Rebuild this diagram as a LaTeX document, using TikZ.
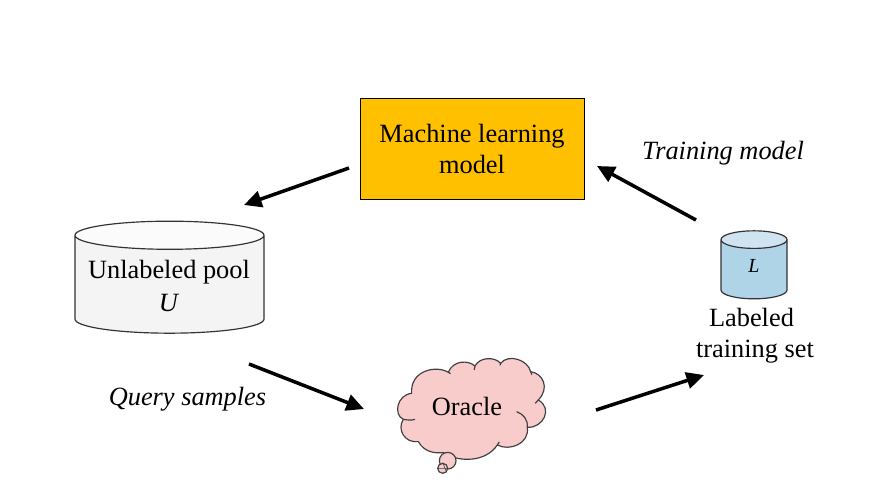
\documentclass[tikz,border=0pt]{standalone}
\usepackage{fontspec}
\setmainfont{Liberation Serif}
\usepackage{xcolor}
\usetikzlibrary{arrows.meta,shapes.geometric}
\definecolor{modelfill}{HTML}{FFC000}
\definecolor{oraclefill}{HTML}{F9CCCC}
\definecolor{setbody}{HTML}{AFD3E7}
\definecolor{settop}{HTML}{CFE3F1}
\definecolor{poolfill}{HTML}{F4F4F4}

\begin{document}
\begin{tikzpicture}[x=0.03cm,y=-0.03cm,
    font=\fontsize{22.5}{26.5}\selectfont,
    barrel/.style={cylinder,shape border rotate=90,draw=black!80,line width=1pt,cylinder uses custom fill,inner sep=0pt},
    bubble/.style={circle,draw=black!75,fill=oraclefill,line width=1pt,inner sep=0pt},
    flow/.style={-{Triangle[length=15pt,width=14pt]},line width=3pt,black}]
  \useasboundingbox (0,0) rectangle (874,496);

  \node[draw=black,fill=modelfill,line width=0.7pt,minimum width=6.72cm,minimum height=3.03cm,align=center] (model) at (472,149) {Machine learning\\model};

  \node[barrel,cylinder body fill=poolfill,cylinder end fill=white!60!poolfill,minimum width=5.67cm,minimum height=3.36cm,aspect=2.4] (pool) at (169.5,284.5) {\rule{10pt}{0pt}};
  \node[align=center] (pooltext) at (169,286) {Unlabeled pool\\[2pt]\textit{U}};

  \node[barrel,cylinder body fill=setbody,cylinder end fill=settop,minimum width=1.98cm,minimum height=2.04cm,aspect=1.5] (labeled) at (754,269.5) {\rule{10pt}{0pt}};
  \node[font=\fontsize{17}{20}\selectfont\itshape] (labeledmark) at (754,266) {L};
  \node[align=center] (labeledtext) at (755,335.5) {Labeled\kern6pt\\training set};

  % cloud outline traced puff by puff
  \begin{scope}[shift={(380,340)},x=0.01cm,y=-0.01cm]
    \draw[draw=black!75,fill=oraclefill,line width=1pt,line join=round]
      (95,160) .. controls (50,165) and (40,225) .. (70,238)
      .. controls (50,270) and (75,310) .. (115,305)
      .. controls (135,340) and (170,340) .. (190,338)
      .. controls (240,370) and (320,365) .. (352,315)
      .. controls (390,335) and (450,310) .. (442,262)
      .. controls (490,265) and (520,205) .. (475,180)
      .. controls (510,145) and (490,100) .. (452,95)
      .. controls (445,60) and (385,40) .. (362,70)
      .. controls (345,50) and (300,50) .. (285,78)
      .. controls (265,60) and (220,60) .. (205,97)
      .. controls (170,75) and (90,90) .. (95,160) -- cycle;
    \draw[draw=black!75,line width=1pt]
      (70,238) .. controls (80,240) and (95,242) .. (105,238)
      (442,262) .. controls (445,240) and (430,222) .. (410,215)
      (205,97) -- (212,101) (285,78) -- (283,90) (362,70) -- (360,76)
      (452,95) -- (456,104) (475,180) -- (466,190) (352,315) -- (358,306);
  \end{scope}
  \node[bubble,minimum size=0.5cm] (bubblea) at (447.7,460.7) {};
  \node[bubble,minimum size=0.3cm] (bubbleb) at (442.7,468.3) {};
  \draw[draw=black!75,line width=0.5pt] (bubbleb.west) -- (bubbleb.east) (bubbleb.north) -- (bubbleb.south east);
  \node (oracle) at (467,406) {Oracle};

  \node[font=\fontsize{22.5}{26.5}\selectfont\itshape] (train) at (723,153.5) {Training model};
  \node[font=\fontsize{22.5}{26.5}\selectfont\itshape] (query) at (187.5,399.5) {Query samples};

  \coordinate (a1) at (349,168);
  \coordinate (a2) at (244,205);
  \coordinate (b1) at (249,364);
  \coordinate (b2) at (364,409);
  \coordinate (c1) at (596,410);
  \coordinate (c2) at (704,375);
  \coordinate (d1) at (696,220);
  \coordinate (d2) at (597,166);
  \draw[flow] (a1) -- (a2);
  \draw[flow] (b1) -- (b2);
  \draw[flow] (c1) -- (c2);
  \draw[flow] (d1) -- (d2);
\end{tikzpicture}
\end{document}
